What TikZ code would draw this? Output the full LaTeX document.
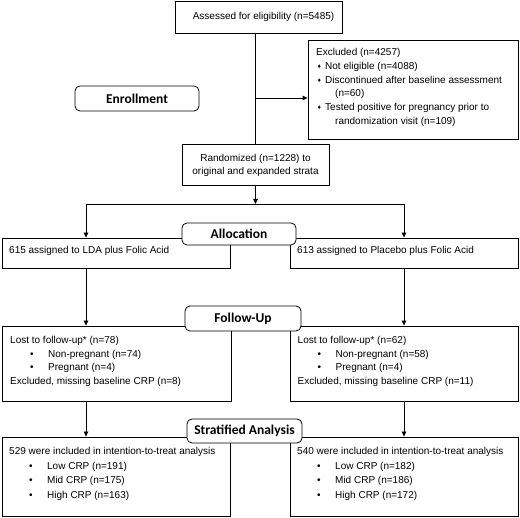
\documentclass[tikz,border=0pt]{standalone}
\usepackage{fontspec}
\setmainfont{Liberation Sans}
\newfontfamily\labfont{Carlito}
\newfontfamily\symfont{DejaVu Sans}
\usetikzlibrary{arrows.meta}
\newcommand\bul[1]{\hspace*{20pt}\makebox[18pt][l]{•}#1}
\newcommand\dia{\makebox[9pt][l]{\hspace{1pt}\raisebox{0.8pt}{\symfont\fontsize{5}{5}\selectfont ♦}}}
\begin{document}
\begin{tikzpicture}[x=1pt,y=-1pt,
  box/.style={draw=black,line width=0.8pt,inner sep=0pt},
  rbox/.style={draw=black,fill=white,rounded corners=5pt,line width=0.8pt,inner sep=0pt,
    font=\labfont\bfseries\fontsize{13.5}{15}\selectfont},
  txt/.style={font=\fontsize{10}{13.7}\selectfont,align=left,inner sep=0pt,anchor=west},
  ctxt/.style={font=\fontsize{10}{13.7}\selectfont,align=center,inner sep=0pt},
  conn/.style={line width=0.8pt},
  arr/.style={line width=0.8pt,-{Triangle[length=5pt,width=4.5pt]}}]
\useasboundingbox (0,0) rectangle (520,518);
% boxes
\node[box,minimum width=167pt,minimum height=32pt] (assess) at (258.5,17) {};
\node[ctxt] (assesst) at (263.5,17) {Assessed for eligibility (n=5485)};
\node[box,minimum width=210pt,minimum height=99pt] (excl) at (413,89.5) {};
\node[txt,font=\fontsize{10}{13.8}\selectfont] (exclt) at (316,87.5) {Excluded (n=4257)\\
\dia Not eligible (n=4088)\\
\dia Discontinued after baseline assessment\\
\hspace*{19pt}(n=60)\\
\dia Tested positive for pregnancy prior to\\
\hspace*{19pt}randomization visit (n=109)};
\node[box,minimum width=147pt,minimum height=41pt] (rand) at (255.5,164.5) {};
\node[ctxt] (randt) at (255.5,165.5) {Randomized (n=1228) to\\original and expanded strata};
\node[box,minimum width=228pt,minimum height=30pt] (la) at (116,253) {};
\node[txt] (lat) at (9,251) {615 assigned to LDA plus Folic Acid};
\node[box,minimum width=228pt,minimum height=30pt] (ra) at (404,253) {};
\node[txt] (rat) at (297,251) {613 assigned to Placebo plus Folic Acid};
\node[box,minimum width=229pt,minimum height=75pt] (fl) at (116.5,363.5) {};
\node[txt] (flt) at (10,361.5) {Lost to follow-up* (n=78)\\
\bul{Non-pregnant (n=74)}\\
\bul{Pregnant (n=4)}\\
Excluded, missing baseline CRP (n=8)};
\node[box,minimum width=228pt,minimum height=75pt] (fr) at (404,363.5) {};
\node[txt] (frt) at (297.5,361.5) {Lost to follow-up* (n=62)\\
\bul{Non-pregnant (n=58)}\\
\bul{Pregnant (n=4)}\\
Excluded, missing baseline CRP (n=11)};
\node[box,minimum width=228pt,minimum height=79pt] (bl) at (116,476.5) {};
\node[txt,font=\fontsize{10}{14.6}\selectfont] (blt) at (9,474) {529 were included in intention-to-treat analysis\\
\bul{Low CRP (n=191)}\\
\bul{Mid CRP (n=175)}\\
\bul{High CRP (n=163)}};
\node[box,minimum width=228pt,minimum height=79pt] (br) at (404,476.5) {};
\node[txt,font=\fontsize{10}{14.6}\selectfont] (brt) at (297,474) {540 were included in intention-to-treat analysis\\
\bul{Low CRP (n=182)}\\
\bul{Mid CRP (n=186)}\\
\bul{High CRP (n=172)}};
% connectors
\draw[conn] (rand.north |- assess.south) -- (rand.north);
\coordinate (ex) at (255.5,98);
\draw[arr] (ex) -- (ex -| excl.west);
\coordinate (sm) at (255.5,204);
\coordinate (sl) at (86,204);
\coordinate (sr) at (404,204);
\draw[arr] (rand.south) -- (sm);
\draw[conn] (sl) -- (sr);
\draw[arr] (sl) -- (sl |- la.north);
\draw[arr] (sr) -- (sr |- ra.north);
\draw[arr] (sl |- la.south) -- (sl |- fl.north);
\draw[arr] (sr |- ra.south) -- (sr |- fr.north);
\draw[arr] (sl |- fl.south) -- (sl |- bl.north);
\draw[arr] (sr |- fr.south) -- (sr |- br.north);
% stage labels
\node[rbox,minimum width=124pt,minimum height=25pt] (enr) at (137,98.5) {Enrollment};
\node[rbox,minimum width=114pt,minimum height=22pt] (alloc) at (239,234) {Allocation};
\node[rbox,minimum width=116pt,minimum height=25pt] (fu) at (243,318.5) {Follow-Up};
\node[rbox,minimum width=115pt,minimum height=24pt] (strat) at (244.5,431) {Stratified Analysis};
\end{tikzpicture}
\end{document}
